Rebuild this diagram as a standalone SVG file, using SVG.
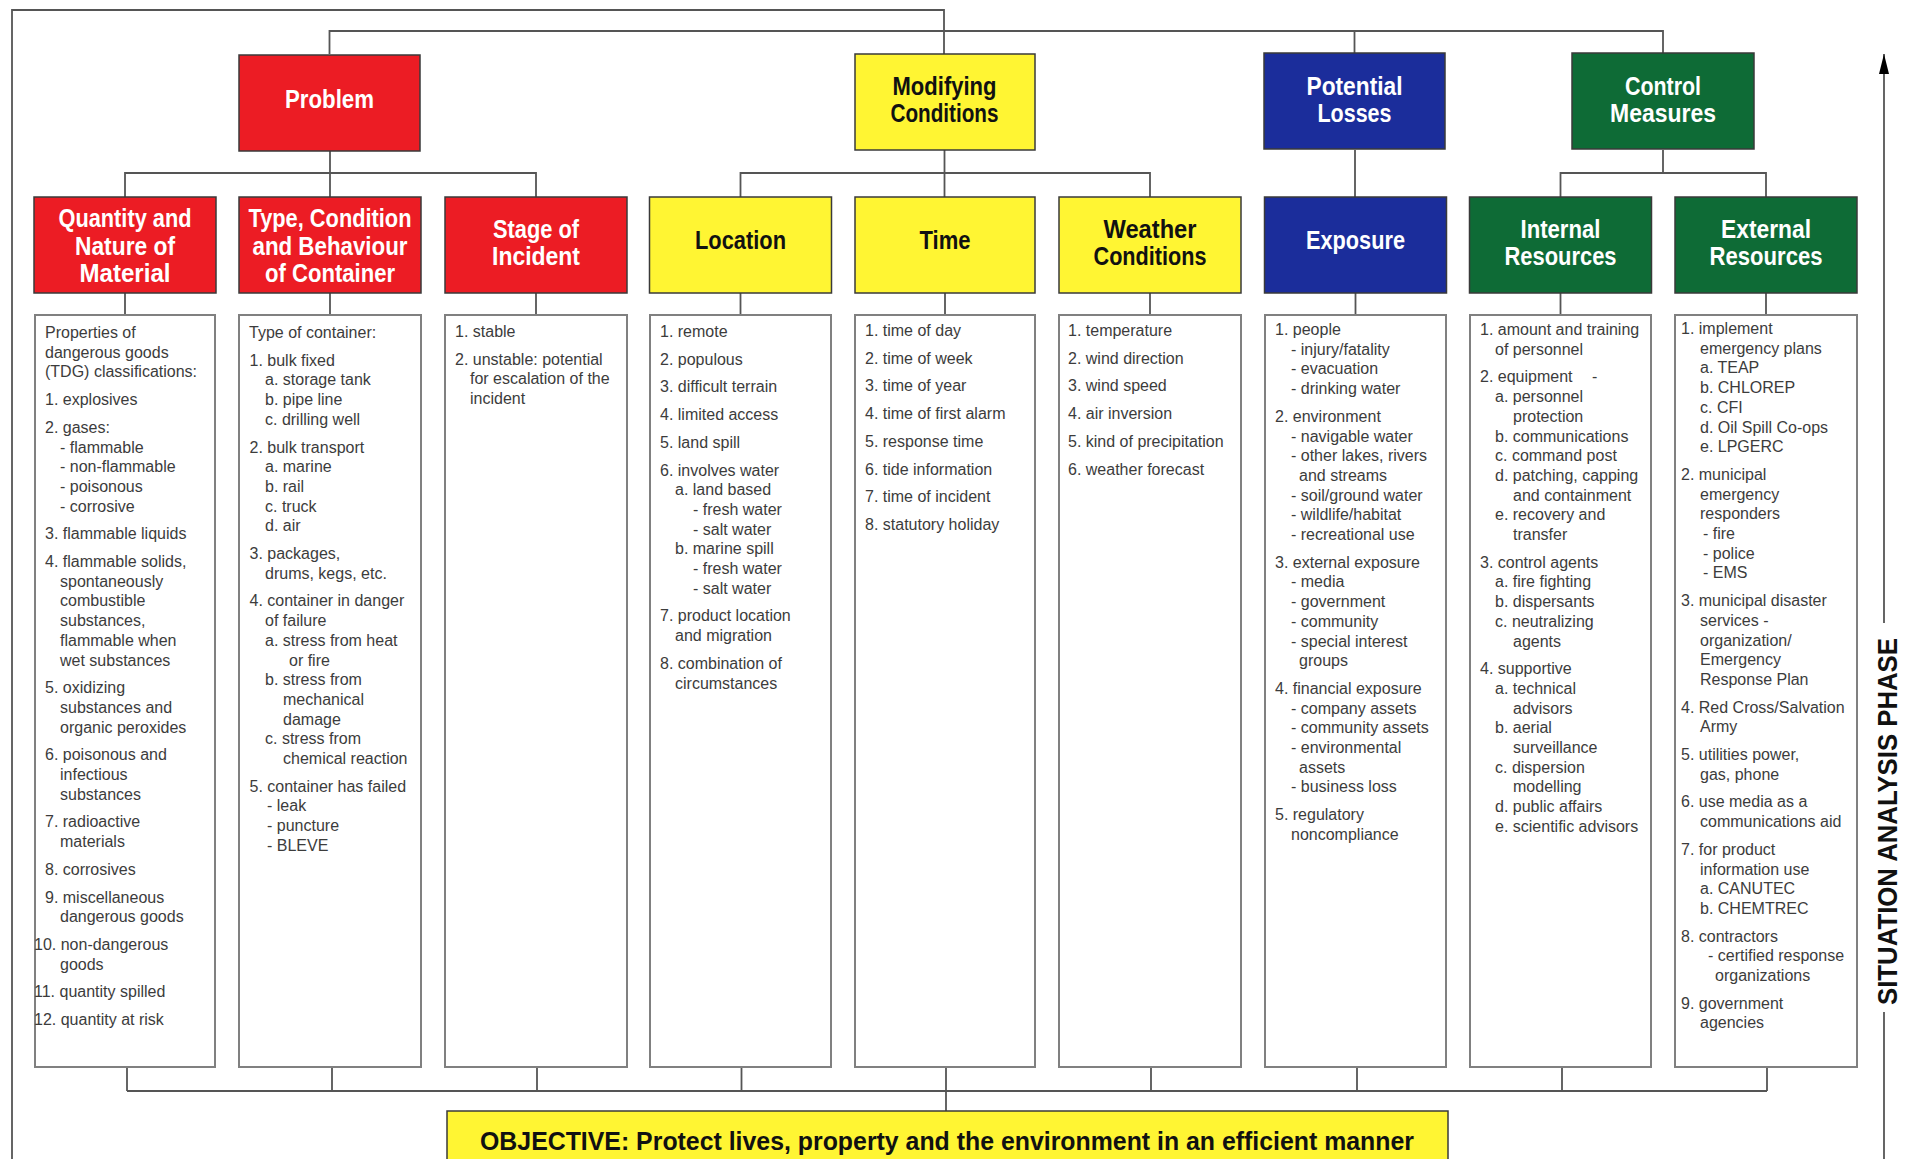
<svg xmlns="http://www.w3.org/2000/svg" width="1910" height="1159" viewBox="0 0 1910 1159">
<defs>
<style>
.hb{stroke:#3a3a3a;stroke-width:1.5}
.red{fill:#ec1c24}.yel{fill:#fff533}.blu{fill:#1b2d9b}.grn{fill:#0e6b36}
.ht{font-family:"Liberation Sans",Arial,sans-serif;font-weight:bold;font-size:26px;text-anchor:middle}
.w{fill:#ffffff}.k{fill:#111111}
.tb{fill:#ffffff;stroke:#808080;stroke-width:2}
.bt{font-family:"Liberation Sans",Arial,sans-serif;font-size:16px;fill:#3c3c3c}
.cn{fill:none;stroke:#555555;stroke-width:1.8}
</style>
<marker id="arr" viewBox="0 0 10 20" refX="5" refY="0" markerWidth="10" markerHeight="20" markerUnits="userSpaceOnUse" orient="0">
<polygon points="0,20 5,0 10,20" fill="#000"/>
</marker>
</defs>
<rect width="1910" height="1159" fill="#ffffff"/>

<g id="connectors">
<polyline class="cn" points="12,1165 12,10 944,10 944,54"/>
<polyline class="cn" points="329.5,54 329.5,31 1663,31 1663,54"/>
<line class="cn" x1="1354.5" y1="31" x2="1354.5" y2="54"/>
<line class="cn" x1="330" y1="150" x2="330" y2="197"/>
<polyline class="cn" points="125,197 125,173 536,173 536,197"/>
<line class="cn" x1="944.5" y1="150" x2="944.5" y2="197"/>
<polyline class="cn" points="740.5,197 740.5,173 1150,173 1150,197"/>
<line class="cn" x1="1355" y1="150" x2="1355" y2="197"/>
<line class="cn" x1="1663" y1="150" x2="1663" y2="173"/>
<polyline class="cn" points="1560.5,197 1560.5,173 1766,173 1766,197"/>
<line class="cn" x1="125" y1="293" x2="125" y2="315"/>
<line class="cn" x1="330" y1="293" x2="330" y2="315"/>
<line class="cn" x1="536" y1="293" x2="536" y2="315"/>
<line class="cn" x1="740.5" y1="293" x2="740.5" y2="315"/>
<line class="cn" x1="945" y1="293" x2="945" y2="315"/>
<line class="cn" x1="1150" y1="293" x2="1150" y2="315"/>
<line class="cn" x1="1355.5" y1="293" x2="1355.5" y2="315"/>
<line class="cn" x1="1560.5" y1="293" x2="1560.5" y2="315"/>
<line class="cn" x1="1766" y1="293" x2="1766" y2="315"/>
<line class="cn" x1="127" y1="1067" x2="127" y2="1091"/>
<line class="cn" x1="332" y1="1067" x2="332" y2="1091"/>
<line class="cn" x1="537" y1="1067" x2="537" y2="1091"/>
<line class="cn" x1="741.5" y1="1067" x2="741.5" y2="1091"/>
<line class="cn" x1="946" y1="1067" x2="946" y2="1091"/>
<line class="cn" x1="1151" y1="1067" x2="1151" y2="1091"/>
<line class="cn" x1="1357" y1="1067" x2="1357" y2="1091"/>
<line class="cn" x1="1562" y1="1067" x2="1562" y2="1091"/>
<line class="cn" x1="1767" y1="1067" x2="1767" y2="1091"/>
<line class="cn" x1="127" y1="1091" x2="1767" y2="1091"/>
<line class="cn" x1="946" y1="1091" x2="946" y2="1111"/>
<line class="cn" x1="1884" y1="623" x2="1884" y2="54" marker-end="url(#arr)"/>
<line class="cn" x1="1884" y1="1012" x2="1884" y2="1165"/>
</g>

<g id="problem"><rect class="hb red" x="239" y="55" width="181" height="96"/><text class="ht w" x="329.5" y="108" textLength="89" lengthAdjust="spacingAndGlyphs">Problem</text></g>
<g id="modifying-conditions"><rect class="hb yel" x="855" y="54" width="180" height="96"/><text class="ht k" x="944.5" y="95" textLength="104" lengthAdjust="spacingAndGlyphs">Modifying</text><text class="ht k" x="944.5" y="122" textLength="108" lengthAdjust="spacingAndGlyphs">Conditions</text></g>
<g id="potential-losses"><rect class="hb blu" x="1264" y="53" width="181" height="96"/><text class="ht w" x="1354.5" y="95" textLength="96" lengthAdjust="spacingAndGlyphs">Potential</text><text class="ht w" x="1354.5" y="122" textLength="74" lengthAdjust="spacingAndGlyphs">Losses</text></g>
<g id="control-measures"><rect class="hb grn" x="1572" y="53" width="182" height="96"/><text class="ht w" x="1663" y="95" textLength="76" lengthAdjust="spacingAndGlyphs">Control</text><text class="ht w" x="1663" y="122" textLength="106" lengthAdjust="spacingAndGlyphs">Measures</text></g>

<g id="quantity"><rect class="hb red" x="34" y="197" width="182" height="96"/><text class="ht w" x="125" y="227" textLength="133" lengthAdjust="spacingAndGlyphs">Quantity and</text><text class="ht w" x="125" y="254.5" textLength="100" lengthAdjust="spacingAndGlyphs">Nature of</text><text class="ht w" x="125" y="282" textLength="91" lengthAdjust="spacingAndGlyphs">Material</text></g>
<g id="container"><rect class="hb red" x="239" y="197" width="182" height="96"/><text class="ht w" x="330" y="227" textLength="163" lengthAdjust="spacingAndGlyphs">Type, Condition</text><text class="ht w" x="330" y="254.5" textLength="155" lengthAdjust="spacingAndGlyphs">and Behaviour</text><text class="ht w" x="330" y="282" textLength="130" lengthAdjust="spacingAndGlyphs">of Container</text></g>
<g id="stage"><rect class="hb red" x="445" y="197" width="182" height="96"/><text class="ht w" x="536" y="238" textLength="86" lengthAdjust="spacingAndGlyphs">Stage of</text><text class="ht w" x="536" y="265" textLength="88" lengthAdjust="spacingAndGlyphs">Incident</text></g>
<g id="location"><rect class="hb yel" x="649.5" y="197" width="182" height="96"/><text class="ht k" x="740.5" y="249" textLength="91" lengthAdjust="spacingAndGlyphs">Location</text></g>
<g id="time"><rect class="hb yel" x="855" y="197" width="180" height="96"/><text class="ht k" x="945" y="249" textLength="51" lengthAdjust="spacingAndGlyphs">Time</text></g>
<g id="weather"><rect class="hb yel" x="1059" y="197" width="182" height="96"/><text class="ht k" x="1150" y="238" textLength="93" lengthAdjust="spacingAndGlyphs">Weather</text><text class="ht k" x="1150" y="265" textLength="113" lengthAdjust="spacingAndGlyphs">Conditions</text></g>
<g id="exposure"><rect class="hb blu" x="1264.5" y="197" width="182" height="96"/><text class="ht w" x="1355.5" y="249" textLength="99" lengthAdjust="spacingAndGlyphs">Exposure</text></g>
<g id="internal"><rect class="hb grn" x="1469.5" y="197" width="182" height="96"/><text class="ht w" x="1560.5" y="238" textLength="80" lengthAdjust="spacingAndGlyphs">Internal</text><text class="ht w" x="1560.5" y="265" textLength="112" lengthAdjust="spacingAndGlyphs">Resources</text></g>
<g id="external"><rect class="hb grn" x="1675" y="197" width="182" height="96"/><text class="ht w" x="1766" y="238" textLength="90" lengthAdjust="spacingAndGlyphs">External</text><text class="ht w" x="1766" y="265" textLength="113" lengthAdjust="spacingAndGlyphs">Resources</text></g>

<g id="list-quantity"><rect class="tb" x="35" y="315" width="180" height="752"/>
<text class="bt"><tspan x="45" y="338">Properties of</tspan><tspan x="45" dy="19.7">dangerous goods</tspan><tspan x="45" dy="19.7">(TDG) classifications:</tspan><tspan x="45" dy="27.7">1. explosives</tspan><tspan x="45" dy="27.7">2. gases:</tspan><tspan x="60" dy="19.7">- flammable</tspan><tspan x="60" dy="19.7">- non-flammable</tspan><tspan x="60" dy="19.7">- poisonous</tspan><tspan x="60" dy="19.7">- corrosive</tspan><tspan x="45" dy="27.7">3. flammable liquids</tspan><tspan x="45" dy="27.7">4. flammable solids,</tspan><tspan x="60" dy="19.7">spontaneously</tspan><tspan x="60" dy="19.7">combustible</tspan><tspan x="60" dy="19.7">substances,</tspan><tspan x="60" dy="19.7">flammable when</tspan><tspan x="60" dy="19.7">wet substances</tspan><tspan x="45" dy="27.7">5. oxidizing</tspan><tspan x="60" dy="19.7">substances and</tspan><tspan x="60" dy="19.7">organic peroxides</tspan><tspan x="45" dy="27.7">6. poisonous and</tspan><tspan x="60" dy="19.7">infectious</tspan><tspan x="60" dy="19.7">substances</tspan><tspan x="45" dy="27.7">7. radioactive</tspan><tspan x="60" dy="19.7">materials</tspan><tspan x="45" dy="27.7">8. corrosives</tspan><tspan x="45" dy="27.7">9. miscellaneous</tspan><tspan x="60" dy="19.7">dangerous goods</tspan><tspan x="34" dy="27.7">10. non-dangerous</tspan><tspan x="60" dy="19.7">goods</tspan><tspan x="34" dy="27.7">11. quantity spilled</tspan><tspan x="34" dy="27.7">12. quantity at risk</tspan></text></g>

<g id="list-container"><rect class="tb" x="239" y="315" width="182" height="752"/>
<text class="bt"><tspan x="249" y="338">Type of container:</tspan><tspan x="249.5" dy="27.7">1. bulk fixed</tspan><tspan x="265" dy="19.7">a. storage tank</tspan><tspan x="265" dy="19.7">b. pipe line</tspan><tspan x="265" dy="19.7">c. drilling well</tspan><tspan x="249.5" dy="27.7">2. bulk transport</tspan><tspan x="265" dy="19.7">a. marine</tspan><tspan x="265" dy="19.7">b. rail</tspan><tspan x="265" dy="19.7">c. truck</tspan><tspan x="265" dy="19.7">d. air</tspan><tspan x="249.5" dy="27.7">3. packages,</tspan><tspan x="265" dy="19.7">drums, kegs, etc.</tspan><tspan x="249.5" dy="27.7">4. container in danger</tspan><tspan x="265" dy="19.7">of failure</tspan><tspan x="265" dy="19.7">a. stress from heat</tspan><tspan x="289" dy="19.7">or fire</tspan><tspan x="265" dy="19.7">b. stress from</tspan><tspan x="283" dy="19.7">mechanical</tspan><tspan x="283" dy="19.7">damage</tspan><tspan x="265" dy="19.7">c. stress from</tspan><tspan x="283" dy="19.7">chemical reaction</tspan><tspan x="249.5" dy="27.7">5. container has failed</tspan><tspan x="267" dy="19.7">- leak</tspan><tspan x="267" dy="19.7">- puncture</tspan><tspan x="267" dy="19.7">- BLEVE</tspan></text></g>

<g id="list-stage"><rect class="tb" x="445" y="315" width="182" height="752"/>
<text class="bt"><tspan x="455" y="337">1. stable</tspan><tspan x="455" dy="27.7">2. unstable: potential</tspan><tspan x="470" dy="19.7">for escalation of the</tspan><tspan x="470" dy="19.7">incident</tspan></text></g>

<g id="list-location"><rect class="tb" x="650" y="315" width="181" height="752"/>
<text class="bt"><tspan x="660" y="337">1. remote</tspan><tspan x="660" dy="27.7">2. populous</tspan><tspan x="660" dy="27.7">3. difficult terrain</tspan><tspan x="660" dy="27.7">4. limited access</tspan><tspan x="660" dy="27.7">5. land spill</tspan><tspan x="660" dy="27.7">6. involves water</tspan><tspan x="675" dy="19.7">a. land based</tspan><tspan x="693" dy="19.7">- fresh water</tspan><tspan x="693" dy="19.7">- salt water</tspan><tspan x="675" dy="19.7">b. marine spill</tspan><tspan x="693" dy="19.7">- fresh water</tspan><tspan x="693" dy="19.7">- salt water</tspan><tspan x="660" dy="27.7">7. product location</tspan><tspan x="675" dy="19.7">and migration</tspan><tspan x="660" dy="27.7">8. combination of</tspan><tspan x="675" dy="19.7">circumstances</tspan></text></g>

<g id="list-time"><rect class="tb" x="855" y="315" width="180" height="752"/>
<text class="bt"><tspan x="865" y="336">1. time of day</tspan><tspan x="865" dy="27.7">2. time of week</tspan><tspan x="865" dy="27.7">3. time of year</tspan><tspan x="865" dy="27.7">4. time of first alarm</tspan><tspan x="865" dy="27.7">5. response time</tspan><tspan x="865" dy="27.7">6. tide information</tspan><tspan x="865" dy="27.7">7. time of incident</tspan><tspan x="865" dy="27.7">8. statutory holiday</tspan></text></g>

<g id="list-weather"><rect class="tb" x="1059" y="315" width="182" height="752"/>
<text class="bt"><tspan x="1068" y="336">1. temperature</tspan><tspan x="1068" dy="27.7">2. wind direction</tspan><tspan x="1068" dy="27.7">3. wind speed</tspan><tspan x="1068" dy="27.7">4. air inversion</tspan><tspan x="1068" dy="27.7">5. kind of precipitation</tspan><tspan x="1068" dy="27.7">6. weather forecast</tspan></text></g>

<g id="list-exposure"><rect class="tb" x="1265" y="315" width="181" height="752"/>
<text class="bt"><tspan x="1275" y="335">1. people</tspan><tspan x="1291" dy="19.7">- injury/fatality</tspan><tspan x="1291" dy="19.7">- evacuation</tspan><tspan x="1291" dy="19.7">- drinking water</tspan><tspan x="1275" dy="27.7">2. environment</tspan><tspan x="1291" dy="19.7">- navigable water</tspan><tspan x="1291" dy="19.7">- other lakes, rivers</tspan><tspan x="1299" dy="19.7">and streams</tspan><tspan x="1291" dy="19.7">- soil/ground water</tspan><tspan x="1291" dy="19.7">- wildlife/habitat</tspan><tspan x="1291" dy="19.7">- recreational use</tspan><tspan x="1275" dy="27.7">3. external exposure</tspan><tspan x="1291" dy="19.7">- media</tspan><tspan x="1291" dy="19.7">- government</tspan><tspan x="1291" dy="19.7">- community</tspan><tspan x="1291" dy="19.7">- special interest</tspan><tspan x="1299" dy="19.7">groups</tspan><tspan x="1275" dy="27.7">4. financial exposure</tspan><tspan x="1291" dy="19.7">- company assets</tspan><tspan x="1291" dy="19.7">- community assets</tspan><tspan x="1291" dy="19.7">- environmental</tspan><tspan x="1299" dy="19.7">assets</tspan><tspan x="1291" dy="19.7">- business loss</tspan><tspan x="1275" dy="27.7">5. regulatory</tspan><tspan x="1291" dy="19.7">noncompliance</tspan></text></g>

<g id="list-internal"><rect class="tb" x="1470" y="315" width="181" height="752"/>
<text class="bt"><tspan x="1480" y="335">1. amount and training</tspan><tspan x="1495" dy="19.7">of personnel</tspan><tspan x="1480" dy="27.7">2. equipment</tspan><tspan x="1592">-</tspan><tspan x="1495" dy="19.7">a. personnel</tspan><tspan x="1513" dy="19.7">protection</tspan><tspan x="1495" dy="19.7">b. communications</tspan><tspan x="1495" dy="19.7">c. command post</tspan><tspan x="1495" dy="19.7">d. patching, capping</tspan><tspan x="1513" dy="19.7">and containment</tspan><tspan x="1495" dy="19.7">e. recovery and</tspan><tspan x="1513" dy="19.7">transfer</tspan><tspan x="1480" dy="27.7">3. control agents</tspan><tspan x="1495" dy="19.7">a. fire fighting</tspan><tspan x="1495" dy="19.7">b. dispersants</tspan><tspan x="1495" dy="19.7">c. neutralizing</tspan><tspan x="1513" dy="19.7">agents</tspan><tspan x="1480" dy="27.7">4. supportive</tspan><tspan x="1495" dy="19.7">a. technical</tspan><tspan x="1513" dy="19.7">advisors</tspan><tspan x="1495" dy="19.7">b. aerial</tspan><tspan x="1513" dy="19.7">surveillance</tspan><tspan x="1495" dy="19.7">c. dispersion</tspan><tspan x="1513" dy="19.7">modelling</tspan><tspan x="1495" dy="19.7">d. public affairs</tspan><tspan x="1495" dy="19.7">e. scientific advisors</tspan></text></g>

<g id="list-external"><rect class="tb" x="1675" y="315" width="182" height="752"/>
<text class="bt"><tspan x="1681" y="334">1. implement</tspan><tspan x="1700" dy="19.7">emergency plans</tspan><tspan x="1700" dy="19.7">a. TEAP</tspan><tspan x="1700" dy="19.7">b. CHLOREP</tspan><tspan x="1700" dy="19.7">c. CFI</tspan><tspan x="1700" dy="19.7">d. Oil Spill Co-ops</tspan><tspan x="1700" dy="19.7">e. LPGERC</tspan><tspan x="1681" dy="27.7">2. municipal</tspan><tspan x="1700" dy="19.7">emergency</tspan><tspan x="1700" dy="19.7">responders</tspan><tspan x="1703" dy="19.7">- fire</tspan><tspan x="1703" dy="19.7">- police</tspan><tspan x="1703" dy="19.7">- EMS</tspan><tspan x="1681" dy="27.7">3. municipal disaster</tspan><tspan x="1700" dy="19.7">services -</tspan><tspan x="1700" dy="19.7">organization/</tspan><tspan x="1700" dy="19.7">Emergency</tspan><tspan x="1700" dy="19.7">Response Plan</tspan><tspan x="1681" dy="27.7">4. Red Cross/Salvation</tspan><tspan x="1700" dy="19.7">Army</tspan><tspan x="1681" dy="27.7">5. utilities power,</tspan><tspan x="1700" dy="19.7">gas, phone</tspan><tspan x="1681" dy="27.7">6. use media as a</tspan><tspan x="1700" dy="19.7">communications aid</tspan><tspan x="1681" dy="27.7">7. for product</tspan><tspan x="1700" dy="19.7">information use</tspan><tspan x="1700" dy="19.7">a. CANUTEC</tspan><tspan x="1700" dy="19.7">b. CHEMTREC</tspan><tspan x="1681" dy="27.7">8. contractors</tspan><tspan x="1708" dy="19.7">- certified response</tspan><tspan x="1715" dy="19.7">organizations</tspan><tspan x="1681" dy="27.7">9. government</tspan><tspan x="1700" dy="19.7">agencies</tspan></text></g>

<g id="objective"><rect class="hb yel" x="447" y="1111" width="1001" height="60"/><text class="ht k" x="947" y="1150" textLength="934" lengthAdjust="spacingAndGlyphs">OBJECTIVE: Protect lives, property and the environment in an efficient manner</text></g>

<g id="phase-label"><text class="ht k" transform="translate(1897,821.5) rotate(-90)" x="0" y="0" style="font-size:28px" textLength="367" lengthAdjust="spacingAndGlyphs">SITUATION ANALYSIS PHASE</text></g>
</svg>
